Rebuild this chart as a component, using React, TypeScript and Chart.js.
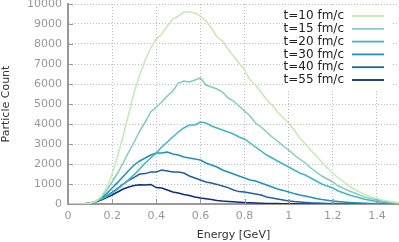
import React, { useEffect, useRef } from "react";
import { Chart, registerables } from "chart.js";

Chart.register(...registerables);

const energy = [
  0, 0.025, 0.05, 0.075, 0.1, 0.125, 0.15, 0.175, 0.2, 0.225, 0.25, 0.275, 0.3, 0.325, 0.35, 0.375,
  0.4, 0.425, 0.45, 0.475, 0.5, 0.525, 0.55, 0.575, 0.6, 0.625, 0.65, 0.675, 0.7, 0.725, 0.75, 0.775,
  0.8, 0.825, 0.85, 0.875, 0.9, 0.925, 0.95, 0.975, 1.0, 1.025, 1.05, 1.075, 1.1, 1.125, 1.15, 1.175,
  1.2, 1.225, 1.25, 1.275, 1.3, 1.325, 1.35, 1.375, 1.4, 1.425, 1.45, 1.475, 1.5,
];

const t10 = [
  0, 0, 0, 10, 40, 130, 380, 800, 1500, 2400, 3400, 4500, 5600, 6450, 7200, 7800,
  8250, 8500, 8900, 9250, 9400, 9600, 9600, 9550, 9400, 9150, 8800, 8350, 8150, 7750, 7400, 7050,
  6700, 6200, 5950, 5600, 5200, 4950, 4600, 4300, 4050, 3700, 3300, 3000, 2700, 2400, 2100, 1800,
  1550, 1300, 1100, 900, 720, 580, 450, 350, 280, 200, 150, 100, 60,
];
const t15 = [
  0, 0, 0, 10, 40, 120, 330, 700, 1100, 1550, 2050, 2600, 3100, 3650, 4100, 4600,
  4850, 5100, 5400, 5650, 6050, 6150, 6100, 6200, 6300, 5950, 5850, 5750, 5600, 5300, 5150, 4900,
  4650, 4400, 4050, 3850, 3600, 3350, 3150, 2900, 2700, 2450, 2250, 2050, 1800, 1600, 1400, 1250,
  1100, 900, 780, 650, 550, 430, 330, 260, 200, 150, 110, 70, 40,
];
const t20 = [
  0, 0, 0, 10, 40, 110, 230, 380, 540, 740, 970, 1220, 1470, 1750, 2050, 2300,
  2550, 2850, 3100, 3350, 3600, 3800, 3950, 3950, 4100, 4050, 3900, 3800, 3700, 3600, 3500, 3350,
  3250, 3050, 2850, 2650, 2450, 2300, 2150, 2000, 1850, 1700, 1550, 1450, 1300, 1150, 1000, 900,
  800, 650, 550, 450, 370, 300, 230, 180, 130, 90, 60, 40, 20,
];
const t30 = [
  0, 0, 0, 10, 40, 130, 290, 520, 800, 1080, 1380, 1680, 1950, 2150, 2300, 2450,
  2550, 2550, 2600, 2500, 2450, 2350, 2300, 2250, 2200, 2050, 1950, 1850, 1700, 1600, 1500, 1400,
  1300, 1200, 1150, 1050, 950, 850, 750, 680, 600, 520, 450, 400, 340, 280, 230, 190,
  150, 120, 100, 80, 60, 45, 35, 25, 20, 15, 10, 5, 0,
];
const t40 = [
  0, 0, 0, 10, 40, 110, 240, 400, 580, 780, 1000, 1180, 1330, 1500, 1520, 1600,
  1600, 1700, 1650, 1600, 1600, 1550, 1400, 1300, 1200, 1100, 1050, 980, 900, 820, 700, 620,
  600, 550, 500, 450, 350, 300, 250, 200, 150, 120, 100, 80, 60, 50, 40, 30,
  25, 20, 15, 10, 8, 5, 4, 3, 2, 1, 0, 0, 0,
];
const t55 = [
  0, 0, 0, 10, 40, 100, 200, 320, 450, 600, 750, 850, 920, 960, 950, 980,
  820, 800, 700, 600, 550, 480, 420, 350, 300, 260, 220, 180, 150, 130, 110, 90,
  70, 60, 50, 40, 30, 25, 20, 15, 10, 8, 6, 5, 4, 3, 2, 1,
  1, 0, 0, 0, 0, 0, 0, 0, 0, 0, 0, 0, 0,
];

const seriesLabels = ["t=10 fm/c", "t=15 fm/c", "t=20 fm/c", "t=30 fm/c", "t=40 fm/c", "t=55 fm/c"];
const seriesValues = [t10, t15, t20, t30, t40, t55];
const seriesColors = ["#c7e9b4", "#7fcdbb", "#41b6c4", "#1d91c0", "#225ea8", "#0c2c84"];

const xTicks = [0, 0.2, 0.4, 0.6, 0.8, 1, 1.2, 1.4];
const yTicks = [0, 1000, 2000, 3000, 4000, 5000, 6000, 7000, 8000, 9000, 10000];

const FONT = '"DejaVu Sans", sans-serif';
const AXIS_GRAY = "#999999";

const innerTicksPlugin = {
  id: "innerTicks",
  afterDatasetsDraw(chart: any) {
    const { ctx, chartArea, scales } = chart;
    ctx.save();
    ctx.strokeStyle = AXIS_GRAY;
    ctx.lineWidth = 1;
    ctx.setLineDash([]);
    scales.x.ticks.forEach((t: any) => {
      const x = Math.round(scales.x.getPixelForValue(t.value)) + 0.5;
      ctx.beginPath();
      ctx.moveTo(x, chartArea.bottom);
      ctx.lineTo(x, chartArea.bottom - 5);
      ctx.stroke();
    });
    scales.y.ticks.forEach((t: any) => {
      const y = Math.round(scales.y.getPixelForValue(t.value)) + 0.5;
      ctx.beginPath();
      ctx.moveTo(chartArea.left, y);
      ctx.lineTo(chartArea.left + 5, y);
      ctx.stroke();
    });
    ctx.restore();
  },
};

const legendPlugin = {
  id: "insideLegend",
  afterDraw(chart: any) {
    const { ctx, chartArea } = chart;
    const right = chartArea.right;
    const top = chartArea.top;
    ctx.save();
    ctx.fillStyle = "#ffffff";
    ctx.fillRect(right - 114, top + 3, 106, 82);
    ctx.font = `12px ${FONT}`;
    ctx.textAlign = "right";
    ctx.textBaseline = "middle";
    chart.data.datasets.forEach((ds: any, i: number) => {
      const y = top + 12 + i * 12.8;
      ctx.fillStyle = "#222222";
      ctx.fillText(ds.label, right - 55, y);
      ctx.strokeStyle = ds.borderColor;
      ctx.lineWidth = 1.8;
      ctx.beginPath();
      ctx.moveTo(right - 47, y);
      ctx.lineTo(right - 15, y);
      ctx.stroke();
    });
    ctx.restore();
  },
};

export default function App() {
  const ref = useRef<HTMLCanvasElement>(null);

  useEffect(() => {
    if (!ref.current) return;
    const chart = new Chart(ref.current, {
      type: "line",
      data: {
        datasets: seriesValues.map((vals, i) => ({
          label: seriesLabels[i],
          data: energy.map((e, j) => ({ x: e, y: vals[j] })),
          borderColor: seriesColors[i],
          backgroundColor: seriesColors[i],
          borderWidth: 1.5,
          pointRadius: 0,
          tension: 0,
          fill: false,
        })),
      },
      options: {
        animation: false,
        responsive: true,
        maintainAspectRatio: false,
        layout: { padding: { top: 4, right: 0, left: 0, bottom: 0 } },
        plugins: {
          legend: { display: false },
          tooltip: { enabled: false },
        },
        scales: {
          x: {
            type: "linear",
            min: 0,
            max: 1.5,
            afterBuildTicks: (axis: any) => {
              axis.ticks = xTicks.map((v) => ({ value: v }));
            },
            afterFit: (scale: any) => {
              scale.height = 38;
              scale.paddingLeft = 0;
              scale.paddingRight = 0;
            },
            border: { display: true, color: AXIS_GRAY, width: 2, dash: [1, 2] },
            grid: {
              color: "#bdbdbd",
              lineWidth: 1,
              drawTicks: false,
            },
            ticks: {
              color: AXIS_GRAY,
              font: { family: FONT, size: 11 },
              padding: 6,
              maxRotation: 0,
              callback: (v: any) => String(Math.round(Number(v) * 10) / 10),
            },
            title: {
              display: true,
              text: "Energy [GeV]",
              color: "#333333",
              font: { family: FONT, size: 11 },
              padding: { top: 0, bottom: 0 },
            },
          },
          y: {
            type: "linear",
            min: 0,
            max: 10000,
            afterBuildTicks: (axis: any) => {
              axis.ticks = yTicks.map((v) => ({ value: v }));
            },
            afterFit: (scale: any) => {
              scale.width = 68;
              scale.paddingTop = 0;
              scale.paddingBottom = 0;
            },
            border: { display: true, color: AXIS_GRAY, width: 2, dash: [1, 2] },
            grid: {
              color: "#bdbdbd",
              lineWidth: 1,
              drawTicks: false,
            },
            ticks: {
              color: AXIS_GRAY,
              font: { family: FONT, size: 11 },
              padding: 6,
              callback: (v: any) => String(v),
            },
            title: {
              display: true,
              text: "Particle Count",
              color: "#333333",
              font: { family: FONT, size: 11 },
              padding: { top: 0, bottom: 0 },
            },
          },
        },
      },
      plugins: [innerTicksPlugin, legendPlugin],
    } as any);
    return () => chart.destroy();
  }, []);

  return (
    <div style={{ position: "fixed", left: 0, top: 0, width: 399, height: 242 }}>
      <canvas ref={ref} />
    </div>
  );
}
